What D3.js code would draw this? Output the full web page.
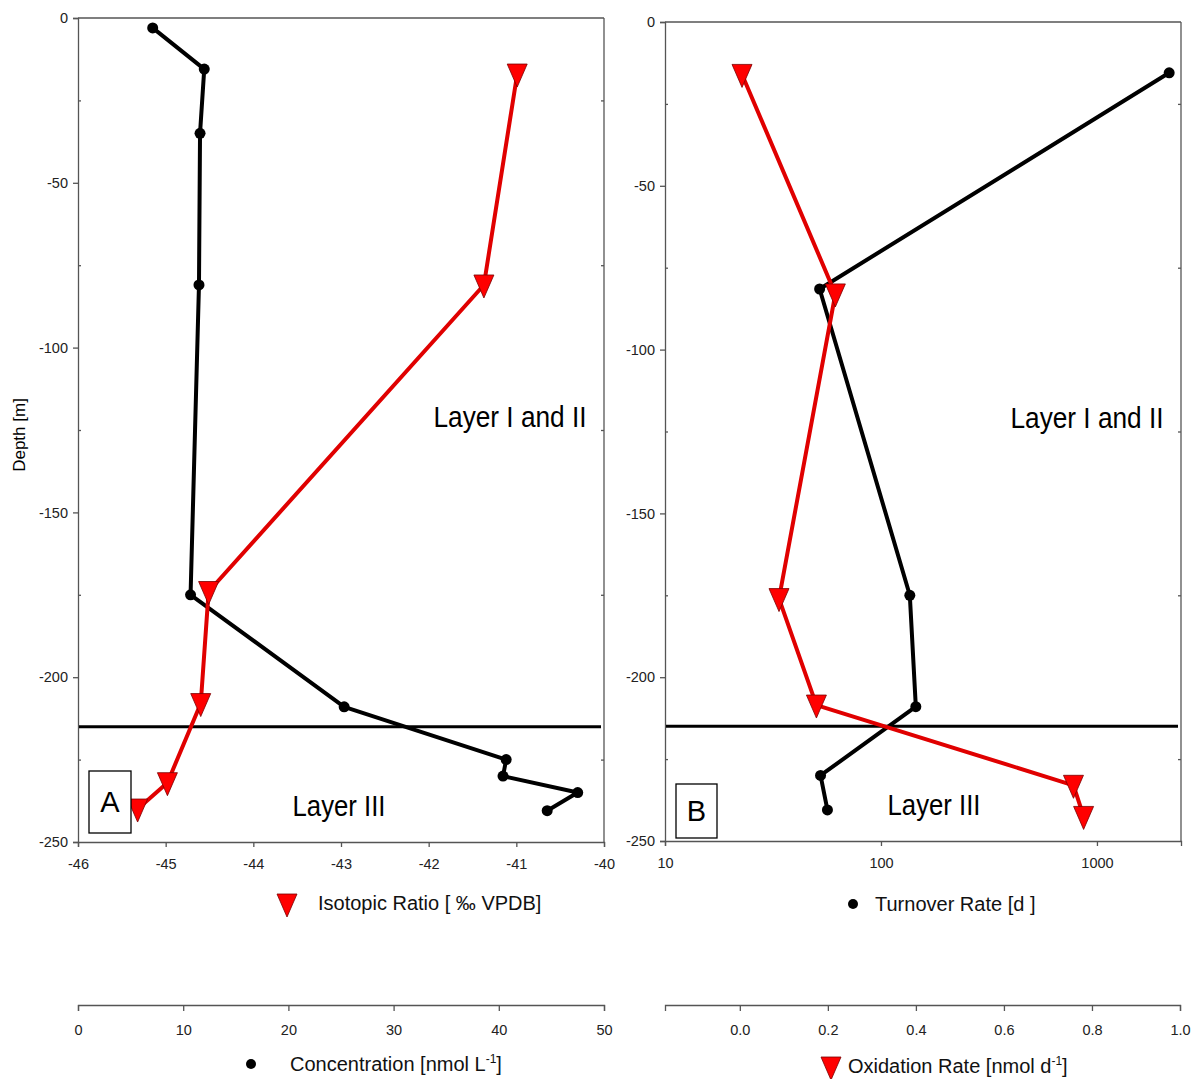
<!DOCTYPE html>
<html>
<head>
<meta charset="utf-8">
<script src="https://cdn.jsdelivr.net/npm/d3@7"></script>
<style>
  body { margin: 0; background: #fff; }
  svg { display: block; }
  .domain, .tick line { stroke: #555; stroke-width: 1.3; }
</style>
</head>
<body>
<script>
// panel A: methane concentration (black) and isotopic ratio (red)
const concDepth = [-3, -15.5, -35, -81, -175, -209, -225, -230, -235, -240.5];
const concValues = [7.1, 12.0, 11.6, 11.5, 10.7, 25.3, 40.7, 40.4, 47.5, 44.6];
const isoDepth = [-17, -81, -174, -208, -232, -240];
const isoValues = [-40.99, -41.37, -44.51, -44.6, -44.98, -45.32];

// panel B: turnover rate (black, log) and oxidation rate (red)
const turnDepth = [-15.5, -81.5, -175, -209, -230, -240.5];
const turnValues = [2160, 52, 136, 145, 52.5, 56.5];
const oxDepth = [-16, -83, -176, -208.5, -233, -242.5];
const oxValues = [0.005, 0.217, 0.089, 0.174, 0.758, 0.781];

const depthTicks = [0, -50, -100, -150, -200, -250];
const depthMinor = [-25, -75, -125, -175, -225];
const layerBoundary = -215;

const W = 1193, H = 1079;
const RED = "#e00000";
const narrow = "'Liberation Sans Narrow', 'Arial Narrow', 'Liberation Sans', sans-serif";
const sans = "'Liberation Sans', Arial, sans-serif";
const plain = (d) => String(d);

const svg = d3.select("body").append("svg")
  .attr("width", W).attr("height", H);

// downward triangle marker
const triDown = {
  draw(ctx, size) {
    ctx.moveTo(-10, -10);
    ctx.lineTo(10, -10);
    ctx.lineTo(0, 13);
    ctx.closePath();
  }
};
const triPath = d3.symbol().type(triDown)();

function styleTicks(sel) {
  sel.selectAll(".tick text")
    .style("font-family", sans).style("font-size", "14.5px").style("fill", "#222");
}

function drawPanel(o) {
  const g = svg.append("g");

  // frame top + right
  g.append("line").attr("x1", o.x0).attr("x2", o.x1).attr("y1", o.y0).attr("y2", o.y0)
    .attr("stroke", "#555").attr("stroke-width", 1.3);
  g.append("line").attr("x1", o.x1).attr("x2", o.x1).attr("y1", o.y0).attr("y2", o.y1)
    .attr("stroke", "#555").attr("stroke-width", 1.3);

  // left axis
  g.append("g").attr("transform", "translate(" + o.x0 + ",0)")
    .call(d3.axisLeft(o.y).tickValues(depthTicks).tickSize(5).tickPadding(5).tickFormat(plain))
    .call(styleTicks);
  g.append("g").attr("transform", "translate(" + o.x0 + ",0)")
    .call(d3.axisRight(o.y).tickValues(depthMinor).tickSize(3).tickFormat(""))
    .select(".domain").remove();
  g.append("g").attr("transform", "translate(" + o.x1 + ",0)")
    .call(d3.axisLeft(o.y).tickValues(depthMinor).tickSize(3).tickFormat(""))
    .select(".domain").remove();

  // bottom axis (top scale)
  g.append("g").attr("transform", "translate(0," + o.y1 + ")")
    .call(o.topAxis).call(styleTicks);

  // lower separate axis
  g.append("g").attr("transform", "translate(0,1005)")
    .call(o.lowAxis).call(styleTicks);

  // layer boundary
  g.append("line").attr("x1", o.x0 + 1).attr("x2", o.x1 - 3)
    .attr("y1", o.y(layerBoundary)).attr("y2", o.y(layerBoundary))
    .attr("stroke", "#000").attr("stroke-width", 3);

  // series
  const line = (xs, ys, xScale) => d3.line()
    .x((d, i) => xScale(xs[i])).y((d, i) => o.y(ys[i]))(xs);

  g.append("path").attr("d", line(o.black.v, o.black.d, o.black.x))
    .attr("fill", "none").attr("stroke", "#000").attr("stroke-width", 4).attr("stroke-linejoin", "round");
  g.append("path").attr("d", line(o.red.v, o.red.d, o.red.x))
    .attr("fill", "none").attr("stroke", RED).attr("stroke-width", 4).attr("stroke-linejoin", "round");

  g.selectAll(".dot").data(o.black.v).enter().append("circle")
    .attr("cx", (d) => o.black.x(d))
    .attr("cy", (d, i) => o.y(o.black.d[i]))
    .attr("r", 5.5).attr("fill", "#000");

  g.selectAll(".tri").data(o.red.v).enter().append("path")
    .attr("d", triPath)
    .attr("transform", (d, i) => "translate(" + o.red.x(d) + "," + o.y(o.red.d[i]) + ")")
    .attr("fill", "#ff0000").attr("stroke", "#7a0000").attr("stroke-width", 0.8);

  // layer labels (condensed to look like the narrow original face)
  g.append("text").attr("x", o.layer1x).attr("y", o.y(-124))
    .attr("text-anchor", "middle").attr("font-family", narrow).attr("font-size", 29)
    .attr("textLength", 153).attr("lengthAdjust", "spacingAndGlyphs")
    .text("Layer I and II");
  g.append("text").attr("x", o.layer3x).attr("y", o.y(-242))
    .attr("text-anchor", "middle").attr("font-family", narrow).attr("font-size", 29)
    .attr("textLength", 93).attr("lengthAdjust", "spacingAndGlyphs")
    .text("Layer III");

  // panel letter box
  g.append("rect").attr("x", o.box[0]).attr("y", o.box[1]).attr("width", o.box[2]).attr("height", o.box[3])
    .attr("fill", "#fff").attr("stroke", "#000").attr("stroke-width", 1.3);
  g.append("text").attr("x", o.box[0] + o.box[2] / 2).attr("y", o.box[1] + o.box[3] / 2 + 10)
    .attr("text-anchor", "middle").attr("font-family", narrow).attr("font-size", 29)
    .text(o.letter);
}

// panel A scales
const yA = d3.scaleLinear().domain([0, -250]).range([18, 842]);
const xIso = d3.scaleLinear().domain([-46, -40]).range([78, 604]);
const xConc = d3.scaleLinear().domain([0, 50]).range([78, 604]);

drawPanel({
  x0: 78, x1: 604, y0: 18, y1: 842, y: yA,
  topAxis: d3.axisBottom(xIso).ticks(6).tickSize(5).tickPadding(12).tickFormat(plain),
  lowAxis: d3.axisBottom(xConc).ticks(5).tickSize(6).tickSizeOuter(6).tickPadding(14),
  black: { v: concValues, d: concDepth, x: xConc },
  red: { v: isoValues, d: isoDepth, x: xIso },
  layer1x: 510, layer3x: 339, box: [89, 771, 42, 62], letter: "A"
});

// panel B scales
const yB = d3.scaleLinear().domain([0, -250]).range([22, 841]);
const xTurn = d3.scaleLog().domain([10, 2450]).range([665, 1181]);
const xOx = d3.scaleLinear().domain([-0.17, 1.0]).range([665, 1180]);

drawPanel({
  x0: 665, x1: 1181, y0: 22, y1: 841, y: yB,
  topAxis: d3.axisBottom(xTurn).tickValues([10, 100, 1000]).tickSize(5).tickPadding(12).tickFormat(plain),
  lowAxis: d3.axisBottom(xOx).tickValues([0, 0.2, 0.4, 0.6, 0.8, 1.0]).tickSize(6).tickPadding(14).tickFormat(d3.format(".1f")),
  black: { v: turnValues, d: turnDepth, x: xTurn },
  red: { v: oxValues, d: oxDepth, x: xOx },
  layer1x: 1087, layer3x: 934, box: [676, 784, 41, 54], letter: "B"
});

// y label
svg.append("text").attr("transform", "translate(25,435) rotate(-90)")
  .attr("text-anchor", "middle").attr("font-family", sans)
  .attr("font-size", 17).text("Depth [m]");

// legends
function legend(x, y, kind, parts) {
  const g = svg.append("g");
  if (kind === "tri") {
    g.append("path").attr("d", triPath).attr("transform", "translate(" + x + "," + (y - 6) + ")")
      .attr("fill", "#ff0000").attr("stroke", "#7a0000").attr("stroke-width", 0.8);
  } else {
    g.append("circle").attr("cx", x).attr("cy", y - 7).attr("r", 5).attr("fill", "#000");
  }
  const t = g.append("text").attr("x", parts.tx).attr("y", y)
    .attr("font-family", narrow).attr("font-size", 20).attr("fill", "#111");
  t.append("tspan").text(parts.text);
  if (parts.sup) {
    t.append("tspan").attr("dy", -8).attr("font-size", 12).text(parts.sup);
    t.append("tspan").attr("dy", 8).text("]");
  }
}

legend(287, 910, "tri", { tx: 318, text: "Isotopic Ratio [ \u2030 VPDB]" });
legend(853, 911, "dot", { tx: 875, text: "Turnover Rate [d ]" });
legend(251, 1071, "dot", { tx: 290, text: "Concentration [nmol L", sup: "-1" });
legend(831, 1073, "tri", { tx: 848, text: "Oxidation Rate [nmol d", sup: "-1" });
</script>
</body>
</html>
